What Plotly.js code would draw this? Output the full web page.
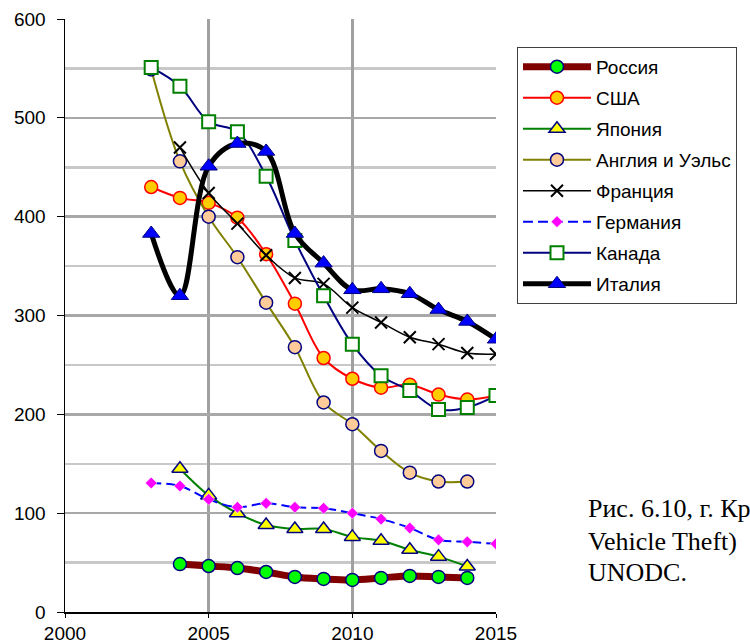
<!DOCTYPE html>
<html>
<head>
<meta charset="utf-8">
<script src="https://cdn.plot.ly/plotly-3.0.1.min.js"></script>
<style>
html,body{margin:0;padding:0;background:#fff;}
#chart{width:750px;height:644px;}
</style>
</head>
<body>
<div id="chart"></div>
<script>
const years = [2003, 2004, 2005, 2006, 2007, 2008, 2009, 2010, 2011, 2012, 2013, 2014, 2015];
const russia  = [null, 48.5, 46.5, 44.5, 40.5, 35.5, 33.5, 32.5, 34.5, 36.5, 35.5, 34.5, null];
const usa     = [430, 419, 414, 399, 362, 312, 257, 236, 227, 230, 220, 215, 219];
const japan   = [null, 145, 118, 100, 88, 84, 84, 76, 72, 63, 56, 46, null];
const england = [549, 456, 400, 359, 313, 268, 212, 190, 163, 141, 132, 132, null];
const france  = [null, 470, 424, 393, 361, 338, 332, 308, 293, 278, 271, 262, 261];
const germany = [130.5, 127.5, 114, 106, 110, 106, 105, 100, 94, 85, 73, 71, 69];
const canada  = [551, 532, 496, 486, 441, 376, 320, 271, 239, 224, 205, 207, 219];
const italy   = [383, 320, 451, 474, 466, 383, 353, 326, 327, 322, 306, 294, 276];

const names = ["Россия", "США", "Япония", "Англия и Уэльс", "Франция", "Германия", "Канада", "Италия"];
const xTicks = [2000, 2005, 2010, 2015];
const yTicks = [0, 100, 200, 300, 400, 500, 600];
const captionLines = ["Рис. 6.10, г. Кр", "Vehicle Theft)", "UNODC."];

function tr(i, y, line, marker) {
  return {
    x: years, y: y, name: names[i], type: 'scatter', mode: 'lines+markers',
    legendgroup: 'g' + i, connectgaps: false,
    line: Object.assign({shape: 'spline', smoothing: 1}, line),
    marker: marker
  };
}

const data = [
  tr(0, russia,  {color: '#800000', width: 7}, {symbol: 'circle', size: 13, color: '#00ff00', line: {color: '#000080', width: 1.5}}),
  tr(1, usa,     {color: '#ff0000', width: 2}, {symbol: 'circle', size: 13, color: '#ffcc00', line: {color: '#ff0000', width: 1.5}}),
  tr(2, japan,   {color: '#008000', width: 2}, {symbol: 'triangle-up', size: 14, color: '#ffff00', line: {color: '#000080', width: 1.5}}),
  tr(3, england, {color: '#808000', width: 2}, {symbol: 'circle', size: 13, color: '#ffcc99', line: {color: '#000080', width: 1.5}}),
  tr(4, france,  {color: '#000000', width: 1.5}, {symbol: 'x-thin', size: 12, color: '#000000', line: {color: '#000000', width: 2}}),
  tr(5, germany, {color: '#0000ff', width: 2, dash: '10px,5px'}, {symbol: 'diamond', size: 9, color: '#ff00ff', line: {color: '#ffffff', width: 0.5}}),
  tr(6, canada,  {color: '#000080', width: 2}, {symbol: 'square', size: 13, color: '#ffffff', line: {color: '#008000', width: 2}}),
  tr(7, italy,   {color: '#000000', width: 5}, {symbol: 'triangle-up', size: 15, color: '#0000ff', line: {color: '#000080', width: 1}})
];

const captionY = [0.1737, 0.1197, 0.0658];
const annotations = captionLines.map((t, k) => ({
  xref: 'paper', yref: 'paper', x: 1.209, y: captionY[k], xanchor: 'left', yanchor: 'middle',
  text: t, align: 'left', showarrow: false,
  font: {family: 'Liberation Serif, Times New Roman, serif', size: 26, color: '#000000'}
}));

const layout = {
  width: 750, height: 644,
  margin: {l: 65, r: 254, t: 19, b: 32, pad: 0},
  paper_bgcolor: '#ffffff', plot_bgcolor: '#ffffff',
  font: {family: 'Liberation Sans, Arial, sans-serif', color: '#000000', size: 19},
  showlegend: true,
  xaxis: {
    range: [2000, 2015], tickmode: 'array', tickvals: xTicks, ticktext: xTicks.map(String),
    showgrid: true, gridcolor: '#a0a0a0', gridwidth: 2.5,
    showline: true, linecolor: '#000000', linewidth: 1.5,
    ticks: 'outside', ticklen: 4, tickcolor: '#000000', tickwidth: 1,
    zeroline: false, tickfont: {size: 19}
  },
  yaxis: {
    range: [0, 600], tickmode: 'array', tickvals: yTicks, ticktext: yTicks.map(String),
    showgrid: true, gridcolor: '#a8a8a8', gridwidth: 2.5,
    minor: {dtick: 50, showgrid: true, gridcolor: '#c8c8c8', gridwidth: 2.5, ticks: ''},
    showline: true, linecolor: '#000000', linewidth: 1.5,
    ticks: 'outside', ticklen: 7, tickcolor: '#000000', tickwidth: 1,
    ticklabelstandoff: 7,
    zeroline: false, tickfont: {size: 19}
  },
  legend: {
    x: 1.0487, y: 0.953, xanchor: 'left', yanchor: 'top',
    bordercolor: '#404040', borderwidth: 1, bgcolor: '#ffffff',
    font: {size: 19, family: 'Liberation Sans, Arial, sans-serif'},
    tracegroupgap: 3.3, itemwidth: 68, traceorder: 'grouped'
  },
  annotations: annotations
};

Plotly.newPlot('chart', data, layout, {displayModeBar: false, staticPlot: true});
</script>
</body>
</html>
